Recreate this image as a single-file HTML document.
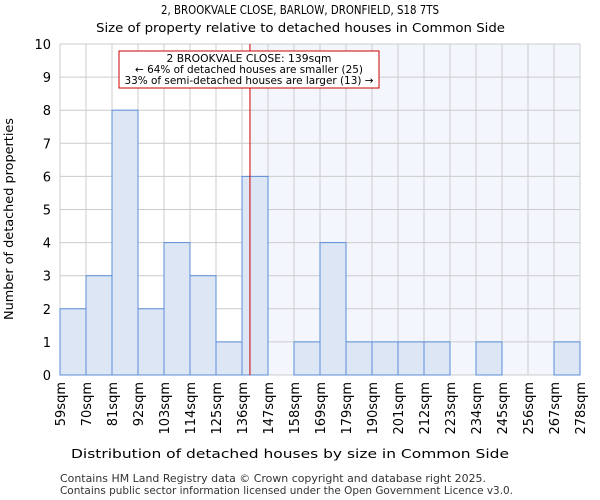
<!DOCTYPE html>
<html><head><meta charset="utf-8"><style>
body{margin:0;background:#fff}
svg{display:block;font-family:"DejaVu Sans","Liberation Sans",sans-serif}
</style></head><body>
<svg id="chart" width="600" height="500" xmlns="http://www.w3.org/2000/svg">
<text x="161" y="14" font-size="12" textLength="278" lengthAdjust="spacingAndGlyphs">2, BROOKVALE CLOSE, BARLOW, DRONFIELD, S18 7TS</text>
<text x="96" y="32" font-size="12.5" textLength="409" lengthAdjust="spacingAndGlyphs">Size of property relative to detached houses in Common Side</text>
<g id="plot"></g>
<text x="71" y="458" font-size="12.5" textLength="438" lengthAdjust="spacingAndGlyphs">Distribution of detached houses by size in Common Side</text>
<text transform="translate(13,320) rotate(-90)" font-size="12.5" textLength="202" lengthAdjust="spacingAndGlyphs">Number of detached properties</text>
<text x="60" y="482" font-size="10.5" fill="#333" textLength="426" lengthAdjust="spacingAndGlyphs">Contains HM Land Registry data © Crown copyright and database right 2025.</text>
<text x="60" y="494" font-size="10.5" fill="#333" textLength="453" lengthAdjust="spacingAndGlyphs">Contains public sector information licensed under the Open Government Licence v3.0.</text>
</svg>
<script>
const binLabels=["59sqm","70sqm","81sqm","92sqm","103sqm","114sqm","125sqm","136sqm","147sqm","158sqm","169sqm","179sqm","190sqm","201sqm","212sqm","223sqm","234sqm","245sqm","256sqm","267sqm","278sqm"];
const counts=[2,3,8,2,4,3,1,6,0,1,4,1,1,1,1,0,1,0,0,1];
const yTicks=[0,1,2,3,4,5,6,7,8,9,10];
const binStart=59, binWidth=10.95, markerValue=139;
const L=60,R=580,T=44,B=375,yMax=10;
const NS="http://www.w3.org/2000/svg";
const g=document.getElementById('plot');
const xs=i=>L+i*(R-L)/counts.length;
const xv=v=>L+(v-binStart)/binWidth*(R-L)/counts.length;
const y=v=>B-v/yMax*(B-T);
function mk(t,a){const e=document.createElementNS(NS,t);for(const k in a)e.setAttribute(k,a[k]);g.appendChild(e);return e;}
const mx=xv(markerValue);
let e=mk('rect',{x:mx,y:T,width:R-mx,height:B-T,fill:'#f3f6fd'});


yTicks.forEach(t=>{let l=mk('line',{x1:L,x2:R,y1:y(t),y2:y(t),stroke:'#ccc'});


let tx=mk('text',{x:L-9,y:y(t)+5,'text-anchor':'end','font-size':13});tx.textContent=t;

});
binLabels.forEach((s,i)=>{let l=mk('line',{x1:xs(i),x2:xs(i),y1:T,y2:B,stroke:'#ccc'});


let tx=mk('text',{transform:`translate(${xs(i)+5},${B+7}) rotate(-90)`,'text-anchor':'end','font-size':13});tx.textContent=s;

});
counts.forEach((c,i)=>{if(!c)return;let r=mk('rect',{x:xs(i),y:y(c),width:xs(i+1)-xs(i),height:B-y(c),fill:'#dce6f4',stroke:'#5b8ed6'});

});
e=mk('line',{x1:mx,x2:mx,y1:T,y2:B,stroke:'#cc0000','stroke-width':1});


e=mk('rect',{x:119,y:51,width:260,height:37,fill:'#fff',stroke:'#cc0000'});


[["2 BROOKVALE CLOSE: 139sqm",165],["← 64% of detached houses are smaller (25)",228],["33% of semi-detached houses are larger (13) →",249]].forEach((s,i)=>{
let t=mk('text',{x:249-s[1]/2,y:62+i*11,'font-size':10.5,textLength:s[1],lengthAdjust:'spacingAndGlyphs'});t.textContent=s[0];

});
</script>
</body></html>
